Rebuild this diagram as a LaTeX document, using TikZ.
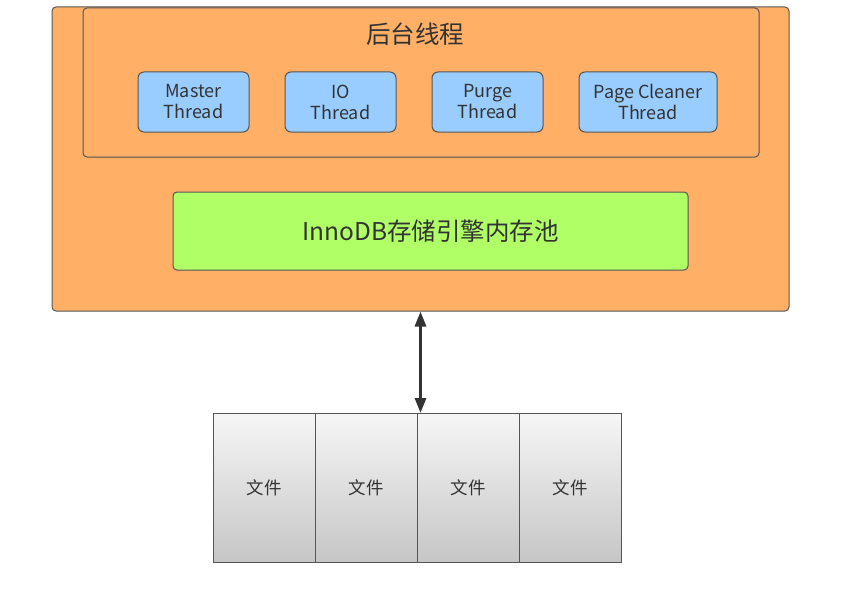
\documentclass[tikz,border=0pt]{standalone}
\usepackage{fontspec}
\setmainfont{Noto Sans CJK SC}
\usepackage{xcolor}
\usetikzlibrary{arrows.meta,positioning}
\definecolor{Frame}{HTML}{555555}
\definecolor{Ink}{HTML}{333333}
\definecolor{SoftOrange}{HTML}{FFB066}
\definecolor{SkyBlue}{HTML}{99CCFF}
\definecolor{LimeGreen}{HTML}{B0FF66}
\definecolor{FileTop}{HTML}{F6F6F6}
\definecolor{FileBottom}{HTML}{C6C6C6}

\begin{document}
\begin{tikzpicture}[x=1pt, y=-1pt, font=\fontsize{18}{21}\selectfont, node distance=36pt, >={Triangle[length=15pt,width=11pt]}, text=Ink]
\useasboundingbox (0,0) rectangle (865,602);
\tikzset{box/.style={draw=Frame, line width=1pt, rounded corners=4pt, inner sep=0pt, outer sep=0pt, align=center}, orangebox/.style={box, fill=SoftOrange}, threadbox/.style={box, fill=SkyBlue, rounded corners=6pt, minimum width=111pt, minimum height=60pt}, poolbox/.style={box, fill=LimeGreen, minimum width=515pt, minimum height=78pt, font=\fontsize{24.5}{28}\selectfont}, filebox/.style={box, rounded corners=0pt, top color=FileTop, bottom color=FileBottom, minimum width=102pt, minimum height=149pt, font=\fontsize{17.5}{20}\selectfont}}
\node[orangebox, minimum width=737pt, minimum height=304pt] (engine) at (420.5,159) {};
\node[orangebox, minimum width=676pt, minimum height=149pt] (bg) at (421,82.5) {};
\node[font=\fontsize{24.5}{28}\selectfont] (bgtitle) at (415,34) {后台线程};
\node[threadbox] (master) at (193.5,102) {Master\\Thread};
\node[threadbox, right=of master] (io) {IO\\Thread};
\node[threadbox, right=of io] (purge) {Purge\\Thread};
\node[threadbox, right=of purge, minimum width=138pt] (cleaner) {Page Cleaner\\Thread};
\node[poolbox] (pool) at (430.5,231) {InnoDB存储引擎内存池};
\node[filebox] (f1) at (264,487.5) {文件};
\foreach \a/\b in {f1/f2,f2/f3,f3/f4} \node[filebox, right=0pt of \a] (\b) {文件};
\draw[<->, line width=3pt, draw=Ink, shorten <=0.5pt] (engine.south) -- (engine.south |- f3.north);
\end{tikzpicture}
\end{document}
